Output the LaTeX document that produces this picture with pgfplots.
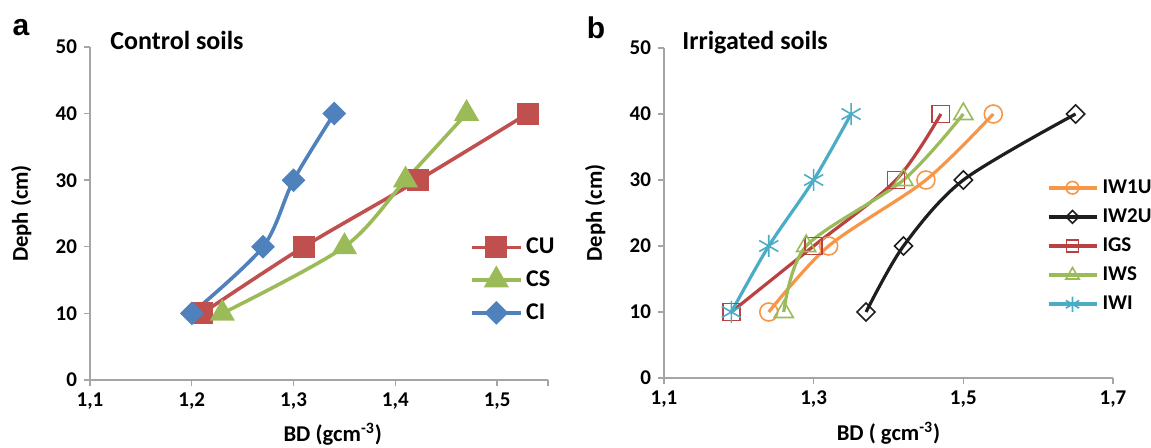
\documentclass[border=0pt]{standalone}
\usepackage{fontspec}
\setmainfont{Carlito}
\newfontfamily\arialfont{Liberation Sans}
\usepackage{pgfplots}
\pgfplotsset{compat=1.18}

\definecolor{cred}{RGB}{192,80,77}
\definecolor{dred}{RGB}{185,65,65}
\definecolor{cgreen}{RGB}{155,187,89}
\definecolor{cblue}{RGB}{79,129,189}
\definecolor{corange}{RGB}{247,150,70}
\definecolor{ccyan}{RGB}{75,172,198}
\definecolor{cblack}{RGB}{30,30,30}
\definecolor{axgray}{RGB}{165,165,165}

\pgfplotsset{soilax/.style={
  scale only axis, anchor=south west, clip=false,
  axis x line=bottom, axis y line=left,
  axis line style={-, draw=axgray, line width=0.7pt},
  tick style={draw=axgray, line width=0.7pt},
  tick align=outside, major tick length=3pt,
  ymin=0, ymax=50, ytick={0,10,...,50}, xmin=1.1,
  ticklabel style={font=\fontsize{10.5}{12}\selectfont\bfseries,
    /pgf/number format/assume math mode=true},
  xticklabel style={/pgf/number format/.cd, fixed, fixed zerofill, precision=1, use comma},
  label style={font=\fontsize{11.3}{13}\selectfont\bfseries},
  ylabel={Deph (cm)},
  legend cell align=left,
  legend image code/.code={\draw[mark repeat=2,mark phase=2] plot coordinates {(0pt,0pt)(12pt,0pt)(24pt,0pt)};},
}}

\begin{document}
\begin{tikzpicture}
\path[use as bounding box] (0,0) rectangle (575.5pt,224pt);

% panel a
\begin{axis}[soilax, at={(45pt,34pt)}, width=229pt, height=166.5pt,
  xmax=1.55, xtick={1.1,1.2,1.3,1.4,1.5}, extra x ticks={1.55}, extra x tick labels={},
  xlabel={BD (gcm\textsuperscript{-3})},
  xlabel style={at={(axis description cs:0.53,-0.185)}, anchor=base},
  ylabel style={at={(axis description cs:-0.15,0.5)}, anchor=center},
  legend style={draw=none, fill=none, at={(axis description cs:0.83,0.30)}, anchor=west,
    inner sep=0pt, row sep=3pt, font=\fontsize{12}{14}\selectfont\bfseries}]
\addplot[cred, line width=1.8pt, smooth, mark=square*, mark size=4.6pt, mark options={solid}]
  coordinates {(1.21,10)(1.31,20)(1.4225,30)(1.53,40)};
\addlegendentry{CU}
\addplot[cgreen, line width=1.8pt, smooth, mark=triangle*, mark size=5.5pt, mark options={solid}]
  coordinates {(1.23,10)(1.35,20)(1.41,30)(1.47,40)};
\addlegendentry{CS}
\addplot[cblue, line width=1.8pt, smooth, mark=square*, mark size=3.3pt, mark options={solid, rotate=45}]
  coordinates {(1.20,10)(1.27,20)(1.30,30)(1.34,40)};
\addlegendentry{CI}
\end{axis}

% panel b
\begin{axis}[soilax, at={(332pt,35pt)}, width=224.5pt, height=165pt,
  xmax=1.7, xtick={1.1,1.3,1.5,1.7},
  xlabel={BD ( gcm\textsuperscript{-3})},
  xlabel style={at={(axis description cs:0.5,-0.19)}, anchor=base},
  ylabel style={at={(axis description cs:-0.153,0.5)}, anchor=center},
  legend image code/.code={\draw[mark repeat=2,mark phase=2, line width=2pt,
    /tikz/every mark/.append style={scale=0.7}] plot coordinates {(0pt,0pt)(12pt,0pt)(24pt,0pt)};},
  legend style={draw=none, fill=none, at={(axis description cs:0.851,0.40)}, anchor=west,
    inner sep=0pt, row sep=2.2pt, font=\fontsize{10.5}{12}\selectfont\bfseries}]
\addplot[corange, line width=1.6pt, smooth, mark=o, mark size=4.5pt, mark options={solid, line width=0.8pt}]
  coordinates {(1.24,10)(1.32,20)(1.45,30)(1.54,40)};
\addlegendentry{IW1U}
\addplot[cblack, line width=1.6pt, smooth, mark=square, mark size=3.2pt, mark options={solid, rotate=45, line width=0.8pt}]
  coordinates {(1.37,10)(1.42,20)(1.50,30)(1.65,40)};
\addlegendentry{IW2U}
\addplot[dred, line width=1.6pt, smooth, mark=square, mark size=4.3pt, mark options={solid, line width=0.8pt}]
  coordinates {(1.19,10)(1.30,20)(1.41,30)(1.47,40)};
\addlegendentry{IGS}
\addplot[cgreen, line width=1.6pt, smooth, mark=triangle, mark size=5.5pt, mark options={solid, line width=0.8pt}]
  coordinates {(1.26,10)(1.29,20)(1.42,30)(1.50,40)};
\addlegendentry{IWS}
\addplot[ccyan, line width=1.6pt, smooth, mark=asterisk, mark size=5.5pt, mark options={solid, line width=0.8pt}]
  coordinates {(1.19,10)(1.24,20)(1.30,30)(1.35,40)};
\addlegendentry{IWI}
\end{axis}

\node[anchor=base west, inner sep=0pt, font=\fontsize{13}{15}\selectfont\bfseries] at (55pt,199pt) {Control soils};
\node[anchor=base west, inner sep=0pt, font=\fontsize{13}{15}\selectfont\bfseries] at (341pt,199pt) {Irrigated soils};
\node[font=\arialfont\bfseries\fontsize{15}{17}\selectfont] at (10.5pt,210pt) {a};
\node[font=\arialfont\bfseries\fontsize{15}{17}\selectfont] at (298pt,210pt) {b};
\end{tikzpicture}
\end{document}
